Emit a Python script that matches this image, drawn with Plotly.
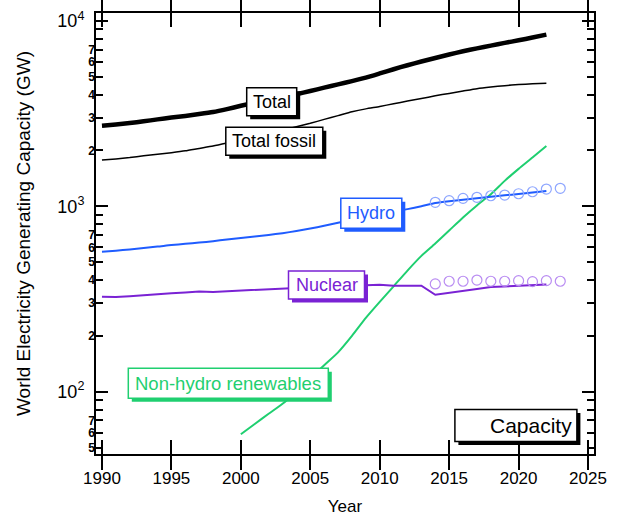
import plotly.graph_objects as go

# World electricity generating capacity (GW)
years = list(range(1990, 2023))
total = [2720, 2760, 2810, 2870, 2940, 3010, 3070, 3140, 3220, 3340,
         3480, 3610, 3740, 3880, 4020, 4180, 4360, 4540, 4730, 4940,
         5200, 5480, 5760, 6030, 6300, 6580, 6850, 7100, 7350, 7600,
         7850, 8120, 8420]
total_fossil = [1775, 1800, 1830, 1870, 1905, 1945, 1990, 2050, 2110, 2190,
                2280, 2370, 2470, 2570, 2680, 2800, 2940, 3080, 3230, 3350,
                3450, 3570, 3690, 3810, 3940, 4060, 4180, 4300, 4390, 4470,
                4530, 4570, 4600]
hydro = [569, 576, 585, 596, 606, 618, 627, 637, 648, 662,
         675, 687, 700, 716, 735, 758, 785, 815, 845, 875,
         905, 935, 965, 1000, 1040, 1065, 1085, 1105, 1125, 1145,
         1165, 1185, 1210]
nuclear = [325, 324, 327, 332, 337, 340, 343, 347, 345, 348,
           352, 353, 356, 360, 364, 367, 370, 372, 373, 375,
           377, 373, 372, 373, 333, 342, 350, 358, 367, 370,
           371, 373, 378]
renew_years = list(range(2000, 2023))
renewables = [59, 67, 76, 86, 100, 118, 139, 163, 200, 250,
              305, 370, 450, 540, 630, 740, 870, 1010, 1160, 1370,
              1590, 1830, 2110]

# Second-source estimates shown as open circles
alt_years = list(range(2014, 2024))
hydro_alt = [1050, 1071, 1103, 1117, 1139, 1149, 1168, 1197, 1238, 1249]
nuclear_alt = [381, 394, 394, 400, 394, 394, 397, 392, 397, 394]

# Axis ticks
year_ticks = [1990, 1995, 2000, 2005, 2010, 2015, 2020, 2025]
decade_vals = [100, 1000, 10000]
decade_text = ["10<sup>2</sup>", "10<sup>3</sup>", "10<sup>4</sup>"]
labelled_vals = [50, 60, 70, 200, 300, 400, 500, 600, 700,
                 2000, 3000, 4000, 5000, 6000, 7000]
labelled_text = ["5", "6", "7", "2", "3", "4", "5", "6", "7",
                 "2", "3", "4", "5", "6", "7"]
unlabelled_vals = [80, 90, 800, 900, 8000, 9000]

BLUE = "#1f5cff"
PURPLE = "#7a22d4"
GREEN = "#1fcf70"
FONT = "Liberation Sans, Arial, Helvetica, sans-serif"

# Plot-area geometry in pixels (used to place the label boxes)
W, H = 619, 516
ML, MR, MT, MB = 96, 25, 13, 62
PW, PH = W - ML - MR, H - MT - MB


def px_x(p):
    return (p - ML) / PW


def px_y(p):
    return (H - MB - p) / PH


fig = go.Figure()
fig.add_trace(go.Scatter(x=renew_years, y=renewables, mode="lines",
                         line=dict(color=GREEN, width=2, shape="spline", smoothing=0.6)))
fig.add_trace(go.Scatter(x=years, y=nuclear, mode="lines",
                         line=dict(color=PURPLE, width=2)))
fig.add_trace(go.Scatter(x=years, y=hydro, mode="lines",
                         line=dict(color=BLUE, width=2, shape="spline", smoothing=0.6)))
fig.add_trace(go.Scatter(x=years, y=total_fossil, mode="lines",
                         line=dict(color="black", width=1.5, shape="spline", smoothing=0.6)))
fig.add_trace(go.Scatter(x=years, y=total, mode="lines",
                         line=dict(color="black", width=4.5, shape="spline", smoothing=0.6)))
fig.add_trace(go.Scatter(x=alt_years, y=hydro_alt, mode="markers", yaxis="y2",
                         marker=dict(symbol="circle-open", size=10,
                                     color="#8ea6ff", line=dict(width=1.2))))
fig.add_trace(go.Scatter(x=alt_years, y=nuclear_alt, mode="markers", yaxis="y2",
                         marker=dict(symbol="circle-open", size=10,
                                     color="#b98cf2", line=dict(width=1.2))))

YRANGE = [1.664, 4.042]

shapes, annotations = [], []


def boxed(text, cx, cy, w, h, color, size=18, text_right=None):
    """White label box with a drop shadow to the lower right (pixel-space centre/size)."""
    sh = 3.5
    shapes.append(dict(type="rect", xref="paper", yref="paper", layer="above",
                       x0=px_x(cx - w / 2 + sh), x1=px_x(cx + w / 2 + sh),
                       y0=px_y(cy + h / 2 + sh), y1=px_y(cy - h / 2 + sh),
                       fillcolor=color, line=dict(width=0)))
    shapes.append(dict(type="rect", xref="paper", yref="paper", layer="above",
                       x0=px_x(cx - w / 2), x1=px_x(cx + w / 2),
                       y0=px_y(cy + h / 2), y1=px_y(cy - h / 2),
                       fillcolor="white", line=dict(color=color, width=1.5)))
    if text_right is None:
        annotations.append(dict(text=text, x=px_x(cx), y=px_y(cy),
                                xref="paper", yref="paper", showarrow=False,
                                xanchor="center", yanchor="middle",
                                font=dict(family=FONT, size=size, color=color)))
    else:
        annotations.append(dict(text=text, x=px_x(text_right), y=px_y(cy),
                                xref="paper", yref="paper", showarrow=False,
                                xanchor="right", yanchor="middle",
                                font=dict(family=FONT, size=size, color=color)))


boxed("Total", 271.7, 101.7, 50, 28, "black")
boxed("Total fossil", 274.3, 141.2, 97, 28, "black")
boxed("Hydro", 371.3, 213.3, 61, 30, BLUE)
boxed("Nuclear", 326.5, 285.0, 76, 28, PURPLE)
boxed("Non-hydro renewables", 228.3, 383.3, 200, 30, GREEN, size=18.5)
boxed("Capacity", 515.9, 425.5, 122, 32, "black", size=21, text_right=574)

fig.update_layout(
    width=W, height=H,
    margin=dict(l=ML, r=MR, t=MT, b=MB, autoexpand=False),
    paper_bgcolor="white", plot_bgcolor="white",
    showlegend=False,
    font=dict(family=FONT, color="black"),
    shapes=shapes,
    annotations=annotations,
    xaxis=dict(
        range=[1989.57, 2025.43], tickvals=year_ticks, automargin=False,
        ticks="inside", ticklen=14, tickwidth=1.5, tickcolor="black",
        showline=True, linewidth=2, linecolor="black", mirror="allticks",
        showgrid=False, zeroline=False,
        tickfont=dict(size=17, color="black"), ticklabelstandoff=8,
        title=dict(text="Year", font=dict(size=17, color="black"), standoff=22),
    ),
    yaxis=dict(
        type="log", range=YRANGE, tickvals=decade_vals, ticktext=decade_text,
        automargin=False,
        ticks="inside", ticklen=12, tickwidth=1.5, tickcolor="black",
        showline=True, linewidth=2, linecolor="black", mirror="allticks",
        showgrid=False, zeroline=False,
        tickfont=dict(size=18, color="black"), ticklabelstandoff=6,
        title=dict(text="World Electricity Generating Capacity (GW)",
                   font=dict(size=19, color="black"), standoff=22),
    ),
    yaxis2=dict(
        type="log", range=YRANGE, overlaying="y", side="left", anchor="x",
        automargin=False,
        tickvals=labelled_vals, ticktext=labelled_text,
        ticks="inside", ticklen=7, tickwidth=1.5, tickcolor="black",
        minor=dict(tickvals=unlabelled_vals, ticks="inside", ticklen=7,
                   tickwidth=1.5, tickcolor="black"),
        showline=False, mirror="allticks", showgrid=False, zeroline=False,
        tickfont=dict(size=12, color="black", weight="bold"), ticklabelstandoff=0,
    ),
)

fig.write_html("out.html")
